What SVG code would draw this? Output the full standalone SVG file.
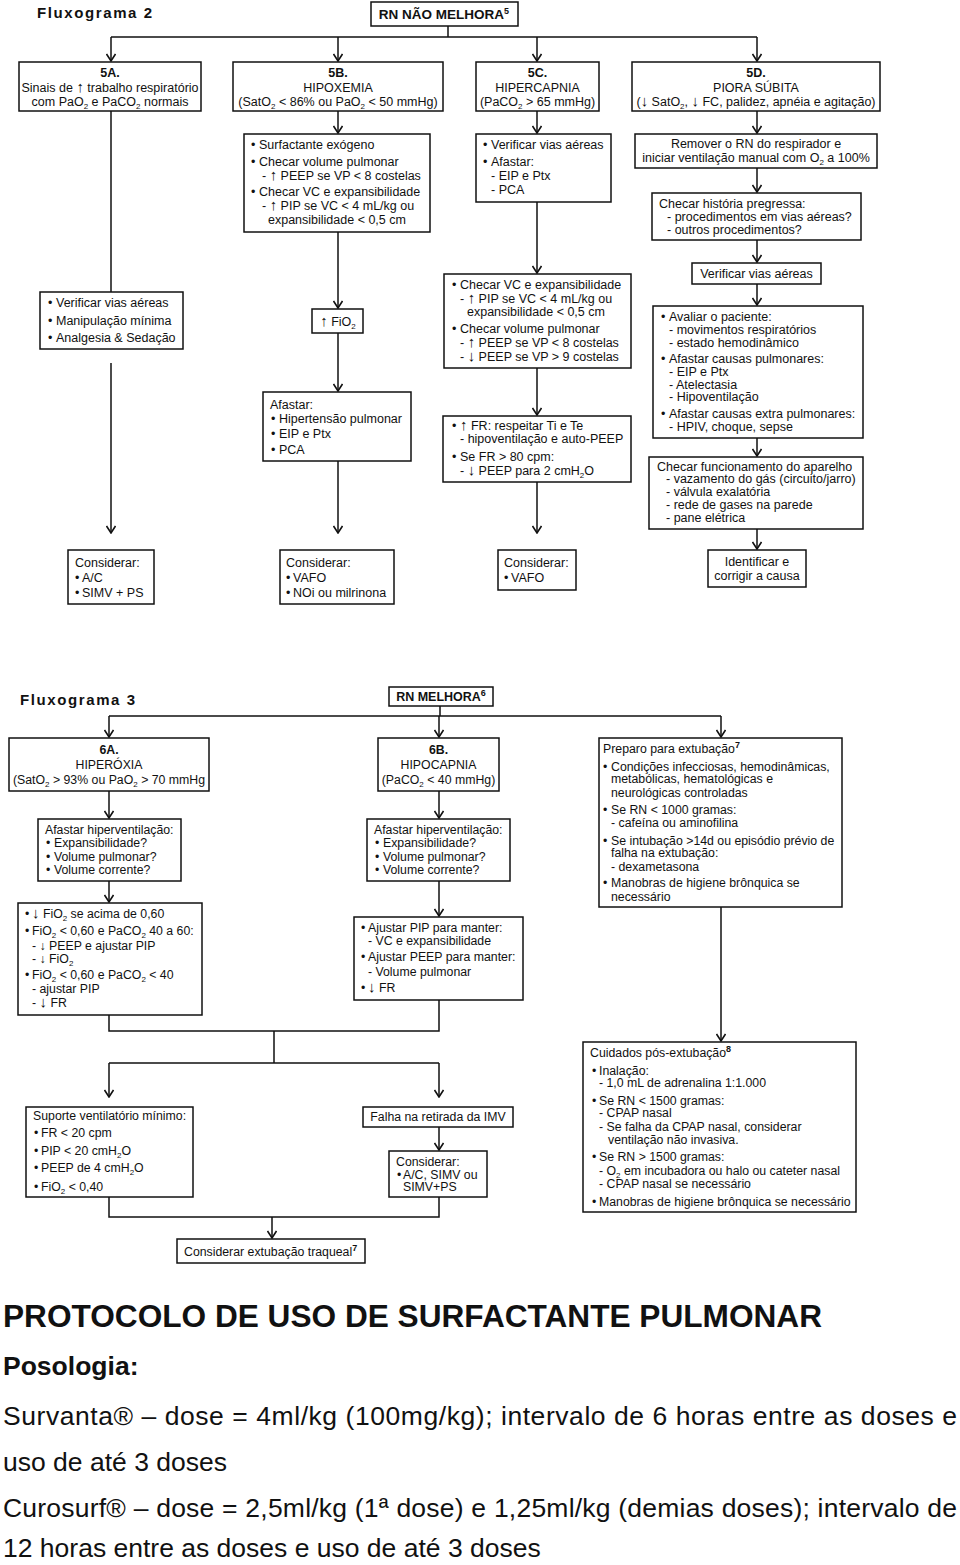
<svg xmlns="http://www.w3.org/2000/svg" width="960" height="1565" viewBox="0 0 960 1565">
<style>
text{font-family:'Liberation Sans',Arial,Helvetica,sans-serif;fill:#111}
.t{font-size:12.5px}
.u{font-size:12.3px}
.c{text-anchor:middle}
.bd{font-weight:bold}
.h{font-size:15px;font-weight:bold;letter-spacing:1.6px}
.bx{fill:#fff;stroke:#111;stroke-width:1.5}
.ln{fill:none;stroke:#111;stroke-width:1.5}
.ar{marker-end:url(#ah)}
.sb{font-size:8px;baseline-shift:-3px}
.sp{font-size:9px;baseline-shift:5px;font-weight:bold}
.aw{font-size:15px}
.big{font-size:26.5px}
</style>
<defs>
<marker id="ah" viewBox="0 0 10 10" refX="9" refY="5" markerWidth="10" markerHeight="10" markerUnits="userSpaceOnUse" orient="auto">
<path d="M2,0.5 L9,5 L2,9.5" fill="none" stroke="#111" stroke-width="1.6"/>
</marker>
</defs>
<rect width="960" height="1565" fill="#fff"/>

<g id="connectors">
<path class="ln" d="M448,26 V37 M111,37 H757"/>
<path class="ln ar" d="M111,37 V61"/>
<path class="ln ar" d="M338,37 V61"/>
<path class="ln ar" d="M537,37 V61"/>
<path class="ln ar" d="M757,37 V61"/>
<path class="ln" d="M111,111 V292"/>
<path class="ln ar" d="M111,363 V533"/>
<path class="ln ar" d="M338,111 V133"/>
<path class="ln ar" d="M338,232 V308"/>
<path class="ln ar" d="M338,333 V391"/>
<path class="ln ar" d="M338,461 V533"/>
<path class="ln ar" d="M537,111 V133"/>
<path class="ln ar" d="M537,202 V273"/>
<path class="ln ar" d="M537,368 V415"/>
<path class="ln ar" d="M537,482 V533"/>
<path class="ln ar" d="M757,111 V133"/>
<path class="ln ar" d="M757,168 V192"/>
<path class="ln ar" d="M757,240 V262"/>
<path class="ln ar" d="M757,284 V305"/>
<path class="ln ar" d="M757,438 V456"/>
<path class="ln ar" d="M757,529 V549"/>

<path class="ln" d="M440,706 V716 M109,716 H721"/>
<path class="ln ar" d="M109,716 V737"/>
<path class="ln ar" d="M439,716 V737"/>
<path class="ln ar" d="M721,716 V737"/>
<path class="ln ar" d="M109,791 V818"/>
<path class="ln ar" d="M439,791 V818"/>
<path class="ln ar" d="M109,881 V902"/>
<path class="ln ar" d="M439,881 V916"/>
<path class="ln" d="M109,1015 V1031 H439 V1000 M274,1031 V1063 M109,1063 H439"/>
<path class="ln ar" d="M109,1063 V1097"/>
<path class="ln ar" d="M439,1063 V1097"/>
<path class="ln ar" d="M439,1127 V1150"/>
<path class="ln" d="M109,1197 V1217 H439 V1197"/>
<path class="ln ar" d="M272,1217 V1238"/>
<path class="ln ar" d="M721,907 V1041"/>
</g>

<g id="title2"><text class="h" x="37" y="18">Fluxograma 2</text></g>

<g id="n-rn-nao-melhora">
<rect class="bx" x="371" y="2" width="147" height="24"/>
<text class="bd c" style="font-size:13.5px" x="444" y="19">RN NÃO MELHORA<tspan class="sp">5</tspan></text>
</g>

<g id="n5a">
<rect class="bx" x="19" y="62" width="182" height="49"/>
<text class="t c bd" x="110" y="77">5A.</text>
<text class="t c" x="110" y="91.5">Sinais de <tspan class="aw">↑</tspan> trabalho respiratório</text>
<text class="t c" x="110" y="106">com PaO<tspan class="sb">2</tspan> e PaCO<tspan class="sb">2</tspan> normais</text>
</g>

<g id="n5b">
<rect class="bx" x="233" y="62" width="210" height="49"/>
<text class="t c bd" x="338" y="77">5B.</text>
<text class="t c" x="338" y="91.5">HIPOXEMIA</text>
<text class="t c" x="338" y="106">(SatO<tspan class="sb">2</tspan> &lt; 86% ou PaO<tspan class="sb">2</tspan> &lt; 50 mmHg)</text>
</g>

<g id="n5c">
<rect class="bx" x="476" y="62" width="123" height="49"/>
<text class="t c bd" x="537.5" y="77">5C.</text>
<text class="t c" x="537.5" y="91.5">HIPERCAPNIA</text>
<text class="t c" x="537.5" y="106">(PaCO<tspan class="sb">2</tspan> &gt; 65 mmHg)</text>
</g>

<g id="n5d">
<rect class="bx" x="632" y="62" width="248" height="49"/>
<text class="t c bd" x="756" y="77">5D.</text>
<text class="t c" x="756" y="91.5">PIORA SÚBITA</text>
<text class="t c" x="756" y="106">(<tspan class="aw">↓</tspan> SatO<tspan class="sb">2</tspan>, <tspan class="aw">↓</tspan> FC, palidez, apnéia e agitação)</text>
</g>

<g id="n5b1">
<rect class="bx" x="244" y="134" width="186" height="98"/>
<text class="t" x="251" y="149">•<tspan x="259">Surfactante exógeno</tspan></text>
<text class="t" x="251" y="166">•<tspan x="259">Checar volume pulmonar</tspan></text>
<text class="t" x="262" y="180">- <tspan class="aw">↑</tspan> PEEP se VP &lt; 8 costelas</text>
<text class="t" x="251" y="196">•<tspan x="259">Checar VC e expansibilidade</tspan></text>
<text class="t" x="262" y="210">- <tspan class="aw">↑</tspan> PIP se VC &lt; 4 mL/kg ou</text>
<text class="t" x="268" y="224">expansibilidade &lt; 0,5 cm</text>
</g>

<g id="n5c1">
<rect class="bx" x="476" y="134" width="135" height="68"/>
<text class="t" x="483" y="149">•<tspan x="491">Verificar vias aéreas</tspan></text>
<text class="t" x="483" y="166">•<tspan x="491">Afastar:</tspan></text>
<text class="t" x="491" y="180">- EIP e Ptx</text>
<text class="t" x="491" y="194">- PCA</text>
</g>

<g id="n5d1">
<rect class="bx" x="635" y="134" width="242" height="34"/>
<text class="t c" x="756" y="148">Remover o RN do respirador e</text>
<text class="t c" x="756" y="162">iniciar ventilação manual com O<tspan class="sb">2</tspan> a 100%</text>
</g>

<g id="n5d2">
<rect class="bx" x="652" y="193" width="209" height="47"/>
<text class="t" x="659" y="208">Checar história pregressa:</text>
<text class="t" x="667" y="221">- procedimentos em vias aéreas?</text>
<text class="t" x="667" y="234">- outros procedimentos?</text>
</g>

<g id="n5d3">
<rect class="bx" x="692" y="263" width="129" height="21"/>
<text class="t c" x="756.5" y="278">Verificar vias aéreas</text>
</g>

<g id="n5d4">
<rect class="bx" x="653" y="306" width="210" height="132"/>
<text class="t" x="661" y="321">•<tspan x="669">Avaliar o paciente:</tspan></text>
<text class="t" x="669" y="334">- movimentos respiratórios</text>
<text class="t" x="669" y="347">- estado hemodinâmico</text>
<text class="t" x="661" y="363">•<tspan x="669">Afastar causas pulmonares:</tspan></text>
<text class="t" x="669" y="376">- EIP e Ptx</text>
<text class="t" x="669" y="389">- Atelectasia</text>
<text class="t" x="669" y="401">- Hipoventilação</text>
<text class="t" x="661" y="418">•<tspan x="669">Afastar causas extra pulmonares:</tspan></text>
<text class="t" x="669" y="431">- HPIV, choque, sepse</text>
</g>

<g id="n5d5">
<rect class="bx" x="649" y="457" width="214" height="72"/>
<text class="t" x="657" y="471">Checar funcionamento do aparelho</text>
<text class="t" x="666" y="483">- vazamento do gás (circuito/jarro)</text>
<text class="t" x="666" y="496">- válvula exalatória</text>
<text class="t" x="666" y="509">- rede de gases na parede</text>
<text class="t" x="666" y="522">- pane elétrica</text>
</g>

<g id="n5d6">
<rect class="bx" x="708" y="550" width="98" height="37"/>
<text class="t c" x="757" y="566">Identificar e</text>
<text class="t c" x="757" y="580">corrigir a causa</text>
</g>

<g id="n5a1">
<rect class="bx" x="40" y="292" width="143" height="57"/>
<text class="t" x="48" y="307">•<tspan x="56">Verificar vias aéreas</tspan></text>
<text class="t" x="48" y="325">•<tspan x="56">Manipulação mínima</tspan></text>
<text class="t" x="48" y="342">•<tspan x="56">Analgesia &amp; Sedação</tspan></text>
</g>

<g id="n5a2">
<rect class="bx" x="68" y="550" width="86" height="54"/>
<text class="t" x="75" y="567">Considerar:</text>
<text class="t" x="75" y="582">•<tspan x="82">A/C</tspan></text>
<text class="t" x="75" y="597">•<tspan x="82">SIMV + PS</tspan></text>
</g>

<g id="n5b2">
<rect class="bx" x="312" y="309" width="51" height="24"/>
<text class="t c" x="338" y="326"><tspan class="aw">↑</tspan> FiO<tspan class="sb">2</tspan></text>
</g>

<g id="n5b3">
<rect class="bx" x="263" y="392" width="148" height="69"/>
<text class="t" x="270" y="409">Afastar:</text>
<text class="t" x="271" y="423">•<tspan x="279">Hipertensão pulmonar</tspan></text>
<text class="t" x="271" y="438">•<tspan x="279">EIP e Ptx</tspan></text>
<text class="t" x="271" y="454">•<tspan x="279">PCA</tspan></text>
</g>

<g id="n5b4">
<rect class="bx" x="280" y="550" width="114" height="54"/>
<text class="t" x="286" y="567">Considerar:</text>
<text class="t" x="286" y="582">•<tspan x="293">VAFO</tspan></text>
<text class="t" x="286" y="597">•<tspan x="293">NOi ou milrinona</tspan></text>
</g>

<g id="n5c2">
<rect class="bx" x="444" y="274" width="187" height="94"/>
<text class="t" x="452" y="289">•<tspan x="460">Checar VC e expansibilidade</tspan></text>
<text class="t" x="460" y="303">- <tspan class="aw">↑</tspan> PIP se VC &lt; 4 mL/kg ou</text>
<text class="t" x="467" y="316">expansibilidade &lt; 0,5 cm</text>
<text class="t" x="452" y="333">•<tspan x="460">Checar volume pulmonar</tspan></text>
<text class="t" x="460" y="347">- <tspan class="aw">↑</tspan> PEEP se VP &lt; 8 costelas</text>
<text class="t" x="460" y="361">- <tspan class="aw">↓</tspan> PEEP se VP &gt; 9 costelas</text>
</g>

<g id="n5c3">
<rect class="bx" x="443" y="416" width="188" height="66"/>
<text class="t" x="452" y="430">•<tspan x="460"><tspan class="aw">↑</tspan> FR: respeitar Ti e Te</tspan></text>
<text class="t" x="460" y="443">- hipoventilação e auto-PEEP</text>
<text class="t" x="452" y="461">•<tspan x="460">Se FR &gt; 80 cpm:</tspan></text>
<text class="t" x="460" y="475">- <tspan class="aw">↓</tspan> PEEP para 2 cmH<tspan class="sb">2</tspan>O</text>
</g>

<g id="n5c4">
<rect class="bx" x="498" y="550" width="78" height="40"/>
<text class="t" x="504" y="567">Considerar:</text>
<text class="t" x="504" y="582">•<tspan x="511">VAFO</tspan></text>
</g>

<g id="title3"><text class="h" x="20" y="705">Fluxograma 3</text></g>

<g id="n-rn-melhora">
<rect class="bx" x="389" y="687" width="104" height="19"/>
<text class="t bd c" x="441" y="701">RN MELHORA<tspan class="sp">6</tspan></text>
</g>

<g id="n6a">
<rect class="bx" x="9" y="738" width="200" height="53"/>
<text class="u c bd" x="109" y="754">6A.</text>
<text class="u c" x="109" y="769">HIPERÓXIA</text>
<text class="u c" x="109" y="784">(SatO<tspan class="sb">2</tspan> &gt; 93% ou PaO<tspan class="sb">2</tspan> &gt; 70 mmHg</text>
</g>

<g id="n6b">
<rect class="bx" x="378" y="738" width="121" height="53"/>
<text class="u c bd" x="438.5" y="754">6B.</text>
<text class="u c" x="438.5" y="769">HIPOCAPNIA</text>
<text class="u c" x="438.5" y="784">(PaCO<tspan class="sb">2</tspan> &lt; 40 mmHg)</text>
</g>

<g id="n6a1">
<rect class="bx" x="38" y="819" width="143" height="62"/>
<text class="u" x="45" y="834">Afastar hiperventilação:</text>
<text class="u" x="46" y="847">•<tspan x="54">Expansibilidade?</tspan></text>
<text class="u" x="46" y="861">•<tspan x="54">Volume pulmonar?</tspan></text>
<text class="u" x="46" y="874">•<tspan x="54">Volume corrente?</tspan></text>
</g>

<g id="n6b1">
<rect class="bx" x="367" y="819" width="143" height="62"/>
<text class="u" x="374" y="834">Afastar hiperventilação:</text>
<text class="u" x="375" y="847">•<tspan x="383">Expansibilidade?</tspan></text>
<text class="u" x="375" y="861">•<tspan x="383">Volume pulmonar?</tspan></text>
<text class="u" x="375" y="874">•<tspan x="383">Volume corrente?</tspan></text>
</g>

<g id="n6a2">
<rect class="bx" x="18" y="903" width="184" height="112"/>
<text class="u" x="25" y="918">•<tspan x="32"><tspan class="aw">↓</tspan> FiO<tspan class="sb">2</tspan> se acima de 0,60</tspan></text>
<text class="u" x="25" y="935">•<tspan x="32">FiO<tspan class="sb">2</tspan> &lt; 0,60 e PaCO<tspan class="sb">2</tspan> 40 a 60:</tspan></text>
<text class="u" x="32" y="950">- ↓ PEEP e ajustar PIP</text>
<text class="u" x="32" y="963">- ↓ FiO<tspan class="sb">2</tspan></text>
<text class="u" x="25" y="979">•<tspan x="32">FiO<tspan class="sb">2</tspan> &lt; 0,60 e PaCO<tspan class="sb">2</tspan> &lt; 40</tspan></text>
<text class="u" x="32" y="993">- ajustar PIP</text>
<text class="u" x="32" y="1007">- <tspan class="aw">↓</tspan> FR</text>
</g>

<g id="n6b2">
<rect class="bx" x="354" y="917" width="169" height="83"/>
<text class="u" x="361" y="932">•<tspan x="368">Ajustar PIP para manter:</tspan></text>
<text class="u" x="368" y="945">- VC e expansibilidade</text>
<text class="u" x="361" y="961">•<tspan x="368">Ajustar PEEP para manter:</tspan></text>
<text class="u" x="368" y="976">- Volume pulmonar</text>
<text class="u" x="361" y="992">•<tspan x="368"><tspan class="aw">↓</tspan> FR</tspan></text>
</g>

<g id="n-preparo">
<rect class="bx" x="599" y="738" width="243" height="169"/>
<text class="u" x="603" y="753">Preparo para extubação<tspan class="sp">7</tspan></text>
<text class="u" x="603" y="771">•<tspan x="611">Condições infecciosas, hemodinâmicas,</tspan></text>
<text class="u" x="611" y="783">metabólicas, hematológicas e</text>
<text class="u" x="611" y="797">neurológicas controladas</text>
<text class="u" x="603" y="814">•<tspan x="611">Se RN &lt; 1000 gramas:</tspan></text>
<text class="u" x="611" y="827">- cafeína ou aminofilina</text>
<text class="u" x="603" y="845">•<tspan x="611">Se intubação &gt;14d ou episódio prévio de</tspan></text>
<text class="u" x="611" y="857">falha na extubação:</text>
<text class="u" x="611" y="871">- dexametasona</text>
<text class="u" x="603" y="887">•<tspan x="611">Manobras de higiene brônquica se</tspan></text>
<text class="u" x="611" y="901">necessário</text>
</g>

<g id="n-suporte">
<rect class="bx" x="26" y="1107" width="167" height="90"/>
<text class="u" x="33" y="1120">Suporte ventilatório mínimo:</text>
<text class="u" x="34" y="1137">•<tspan x="41">FR &lt; 20 cpm</tspan></text>
<text class="u" x="34" y="1155">•<tspan x="41">PIP &lt; 20 cmH<tspan class="sb">2</tspan>O</tspan></text>
<text class="u" x="34" y="1172">•<tspan x="41">PEEP de 4 cmH<tspan class="sb">2</tspan>O</tspan></text>
<text class="u" x="34" y="1191">•<tspan x="41">FiO<tspan class="sb">2</tspan> &lt; 0,40</tspan></text>
</g>

<g id="n-falha">
<rect class="bx" x="363" y="1107" width="150" height="20"/>
<text class="u c" x="438" y="1121">Falha na retirada da IMV</text>
</g>

<g id="n-considerar-acsimv">
<rect class="bx" x="389" y="1151" width="98" height="46"/>
<text class="u" x="396" y="1166">Considerar:</text>
<text class="u" x="397" y="1179">•<tspan x="403">A/C, SIMV ou</tspan></text>
<text class="u" x="403" y="1191">SIMV+PS</text>
</g>

<g id="n-considerar-ext">
<rect class="bx" x="177" y="1239" width="188" height="24"/>
<text class="u" x="184" y="1256">Considerar extubação traqueal<tspan class="sp">7</tspan></text>
</g>

<g id="n-cuidados">
<rect class="bx" x="583" y="1042" width="273" height="170"/>
<text class="u" x="590" y="1057">Cuidados pós-extubação<tspan class="sp">8</tspan></text>
<text class="u" x="592" y="1075">•<tspan x="599">Inalação:</tspan></text>
<text class="u" x="599" y="1087">- 1,0 mL de adrenalina 1:1.000</text>
<text class="u" x="592" y="1105">•<tspan x="599">Se RN &lt; 1500 gramas:</tspan></text>
<text class="u" x="599" y="1117">- CPAP nasal</text>
<text class="u" x="599" y="1131">- Se falha da CPAP nasal, considerar</text>
<text class="u" x="608" y="1144">ventilação não invasiva.</text>
<text class="u" x="592" y="1161">•<tspan x="599">Se RN &gt; 1500 gramas:</tspan></text>
<text class="u" x="599" y="1175">- O<tspan class="sb">2</tspan> em incubadora ou halo ou cateter nasal</text>
<text class="u" x="599" y="1188">- CPAP nasal se necessário</text>
<text class="u" x="592" y="1206">•<tspan x="599">Manobras de higiene brônquica se necessário</tspan></text>
</g>

<g id="protocolo">
<text x="3" y="1327" style="font-size:31px;font-weight:bold" textLength="819" lengthAdjust="spacingAndGlyphs">PROTOCOLO DE USO DE SURFACTANTE PULMONAR</text>
<text class="big bd" x="3" y="1375">Posologia:</text>
<text class="big" x="3" y="1425" textLength="954" lengthAdjust="spacing">Survanta® – dose = 4ml/kg (100mg/kg); intervalo de 6 horas entre as doses e</text>
<text class="big" x="3" y="1471">uso de até 3 doses</text>
<text class="big" x="3" y="1517" textLength="954" lengthAdjust="spacing">Curosurf® – dose = 2,5ml/kg (1ª dose) e 1,25ml/kg (demias doses); intervalo de</text>
<text class="big" x="3" y="1557">12 horas entre as doses e uso de até 3 doses</text>
</g>
</svg>
